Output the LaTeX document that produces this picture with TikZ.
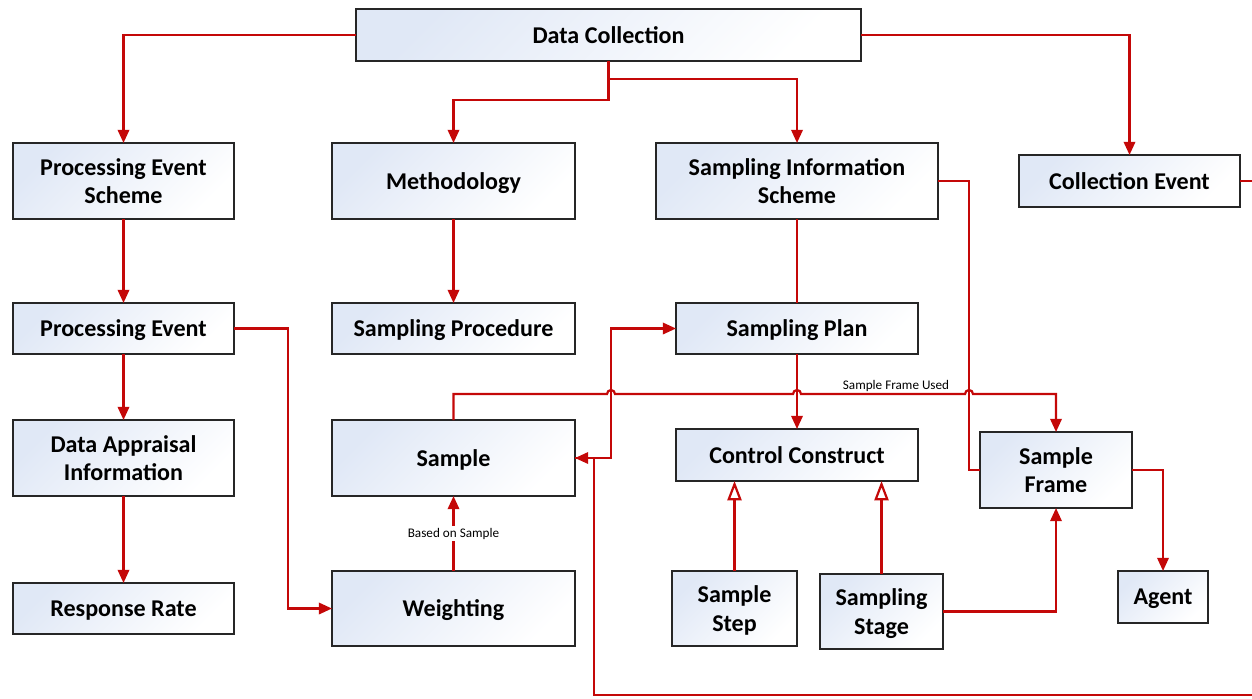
\documentclass[tikz,border=0pt]{standalone}
\usepackage{fontspec}
\setmainfont{Carlito}
\usepackage{tikz}
\usetikzlibrary{arrows.meta,calc,positioning}
\definecolor{linkred}{RGB}{196,8,8}
\definecolor{boxblue}{RGB}{224,232,246}
\tikzset{
    %Define standard arrow tip
    >={Triangle[length=7.5pt,width=6.5pt]},
    %Define style for boxes
    entity/.style={
           rectangle,
           draw=black!85, line width=1.5pt,
           left color=boxblue, right color=white, shading angle=45,
           inner sep=0pt, outer sep=0pt,
           align=center, text depth=0pt,
           font=\bfseries\fontsize{13.7}{16}\selectfont,
           text centered},
    % Define arrow styles
    link/.style={
           ->,
           draw=linkred, line width=1.25pt},
    plain/.style={
           draw=linkred, line width=1.25pt},
    generalize/.style={
           -{Triangle[open,length=11pt,width=8pt]},
           draw=linkred, line width=1.25pt},
    lbl/.style={
           font=\fontsize{7.5}{9}\selectfont,
           inner sep=1pt}
}
\begin{document}
\begin{tikzpicture}
\useasboundingbox (0,0) rectangle (25.04,-13.96);
% top row
\node[entity, minimum width=10.1cm, minimum height=1.04cm] (dc) at (12.17,-0.70) {Data Collection};
\node[entity, minimum width=4.42cm, minimum height=1.52cm] (pes) at (2.47,-3.62) {Processing Event\\Scheme};
\node[entity, minimum width=4.86cm, minimum height=1.52cm, right=1.96cm of pes] (meth) {Methodology};
\node[entity, minimum width=5.64cm, minimum height=1.52cm, right=1.62cm of meth] (sis) {Sampling Information\\Scheme};
\node[entity, minimum width=4.42cm, minimum height=1.04cm, right=1.62cm of sis] (ce) {Collection Event};
% second row
\node[entity, minimum width=4.42cm, minimum height=1.02cm, below=1.68cm of pes] (pe) {Processing Event};
\node[entity, minimum width=4.86cm, minimum height=1.02cm, below=1.68cm of meth] (sproc) {Sampling Procedure};
\node[entity, minimum width=4.84cm, minimum height=1.02cm, below=1.68cm of sis] (splan) {Sampling Plan};
% third row
\node[entity, minimum width=4.42cm, minimum height=1.52cm, below=1.32cm of pe] (dai) {Data Appraisal\\Information};
\node[entity, minimum width=4.86cm, minimum height=1.52cm, below=1.32cm of sproc] (sample) {Sample};
\node[entity, minimum width=4.84cm, minimum height=1.04cm, below=1.5cm of splan] (cc) {Control Construct};
\node[entity, minimum width=3.04cm, minimum height=1.52cm, right=1.24cm of cc, yshift=-0.3cm] (sf) {Sample\\Frame};
% bottom row
\node[entity, minimum width=4.42cm, minimum height=1.02cm, below=1.74cm of dai] (rr) {Response Rate};
\node[entity, minimum width=4.86cm, minimum height=1.5cm, below=1.5cm of sample] (wt) {Weighting};
\node[entity, minimum width=2.5cm, minimum height=1.5cm, below=1.8cm of cc, xshift=-1.25cm] (sstep) {Sample\\Step};
\node[entity, minimum width=2.46cm, minimum height=1.5cm, below=1.86cm of cc, xshift=1.69cm] (sstage) {Sampling\\Stage};
\node[entity, minimum width=1.8cm, minimum height=1.04cm, below=1.26cm of sf, xshift=2.14cm] (agent) {Agent};
% free ends at the frame
\coordinate (ceout) at (25.04,-3.62);
\coordinate (botin) at (25.04,-13.9);
% connectors
\draw[link] (dc.west) -| (pes.north);
\draw[link] (dc.east) -| (ce.north);
\draw[link] (dc.south) -- ++(0,-0.36) -| (sis.north);
\draw[link] (dc.south) -- ++(0,-0.78) -| (meth.north);
\draw[link] (pes) -- (pe);
\draw[link] (pe) -- (dai);
\draw[link] (dai) -- (rr);
\draw[link] (meth) -- (sproc);
\draw[plain] (sis) -- (splan);
\draw[link] (splan) -- (cc);
\draw[plain] (sis.east) -- ++(0.62,0) coordinate (sisbend) |- (sf.west);
\draw[link] (pe.east) -- ++(1.08,0) |- (wt.west);
\draw[link] (wt) -- node[lbl, fill=white] {Based on Sample} (sample);
\draw[generalize] (sstep.north) -- (sstep.north |- cc.south);
\draw[generalize] (sstage.north) -- (sstage.north |- cc.south);
\draw[link] (sstage.east) -| (sf.south);
\draw[link] (sf.east) -| (agent.north);
\draw[link] (sample.east) -- ++(0.72,0) coordinate (sbend) |- (splan.west);
\draw[plain] (ce.east) -- (ceout);
\draw[link] (botin) -- ++(-13.16,0) |- (sample.east);
% line with hops
\coordinate (sfu) at ($(sample.north)+(0,0.52)$);
\draw[link] (sample.north) -- (sfu)
    -- ($(sbend |- sfu)+(-0.08,0)$) arc[start angle=180, end angle=0, radius=0.08]
    -- ($(splan.south |- sfu)+(-0.08,0)$) arc[start angle=180, end angle=0, radius=0.08]
    -- ($(sisbend |- sfu)+(-0.08,0)$) arc[start angle=180, end angle=0, radius=0.08]
    -| (sf.north);
\node[lbl, anchor=base] (sfulbl) at ($(splan.south |- sfu)+(1.98,0.1)$) {Sample Frame Used};
\end{tikzpicture}
\end{document}
